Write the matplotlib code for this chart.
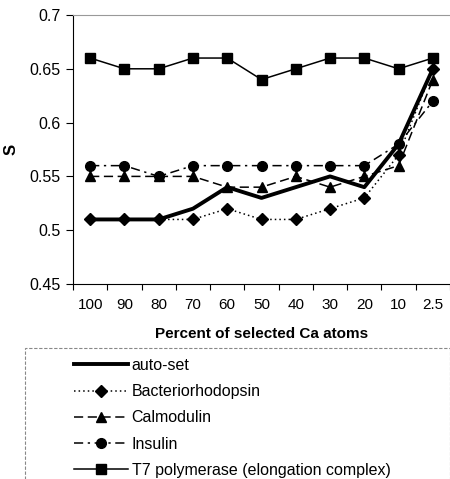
import matplotlib.pyplot as plt
from matplotlib.patches import Rectangle

plt.rcParams['font.family'] = ['Liberation Sans', 'DejaVu Sans']

percent_labels = ['100', '90', '80', '70', '60', '50', '40', '30', '20', '10', '2.5']
auto_set = [0.51, 0.51, 0.51, 0.52, 0.54, 0.53, 0.54, 0.55, 0.54, 0.58, 0.65]
bacteriorhodopsin = [0.51, 0.51, 0.51, 0.51, 0.52, 0.51, 0.51, 0.52, 0.53, 0.57, 0.65]
calmodulin = [0.55, 0.55, 0.55, 0.55, 0.54, 0.54, 0.55, 0.54, 0.55, 0.56, 0.64]
insulin = [0.56, 0.56, 0.55, 0.56, 0.56, 0.56, 0.56, 0.56, 0.56, 0.58, 0.62]
t7_polymerase = [0.66, 0.65, 0.65, 0.66, 0.66, 0.64, 0.65, 0.66, 0.66, 0.65, 0.66]

fig = plt.figure(figsize=(4.5, 4.79), dpi=100)
ax = fig.add_axes([73 / 450, 1 - 284 / 479, 1 - 73 / 450, (284 - 15) / 479])

x = list(range(len(percent_labels)))
ax.plot(x, auto_set, color='black', lw=2.8, label='auto-set')
ax.plot(x, bacteriorhodopsin, color='black', lw=1.1, ls=(0, (1, 2)),
        marker='D', ms=6, label='Bacteriorhodopsin')
ax.plot(x, calmodulin, color='black', lw=1.1, ls=(0, (6, 3)),
        marker='^', ms=7.5, label='Calmodulin')
ax.plot(x, insulin, color='black', lw=1.1, ls=(0, (6, 3, 1.5, 3)),
        marker='o', ms=7, label='Insulin')
ax.plot(x, t7_polymerase, color='black', lw=1.1, marker='s', ms=7,
        label='T7 polymerase (elongation complex)')

ax.set_xlim(-0.5, len(x) - 0.5)
ax.set_ylim(0.45, 0.7)
ax.set_yticks([0.45, 0.5, 0.55, 0.6, 0.65, 0.7])
ax.set_yticklabels(['0.45', '0.5', '0.55', '0.6', '0.65', '0.7'], fontsize=11.5)
ax.set_xticks(x)
ax.set_xticklabels(percent_labels, fontsize=11)
ax.set_xticks([i - 0.5 for i in range(len(x) + 1)], minor=True)
ax.tick_params(axis='x', which='major', length=0, pad=10)
ax.tick_params(axis='x', which='minor', length=4, direction='out', width=0.8)
ax.tick_params(axis='y', length=5, direction='out', width=0.8, pad=4)

ax.spines['right'].set_visible(False)
ax.spines['top'].set_color('#999999')
ax.spines['top'].set_linestyle((0, (2, 1)))
ax.spines['top'].set_linewidth(0.8)

ax.set_xlabel('Percent of selected Ca atoms', fontsize=11, fontweight='bold', labelpad=11)
ax.set_ylabel('S', fontsize=12, fontweight='bold', labelpad=8)

# legend box
fig.patches.append(Rectangle((25 / 450, -0.01), 1 - 25 / 450, 1 - 348 / 479 + 0.01,
                             transform=fig.transFigure, fill=False,
                             edgecolor='#888888', lw=0.8, ls=(0, (3, 1.5))))
handles, labels = ax.get_legend_handles_labels()
fig.legend(handles, labels, loc='upper left',
           bbox_to_anchor=(74 / 450, 1 - 358 / 479), frameon=False,
           fontsize=11.5, handlelength=3.4, handletextpad=0.2,
           labelspacing=0.7, borderpad=0, borderaxespad=0)

fig.savefig('out.png', dpi=100)
